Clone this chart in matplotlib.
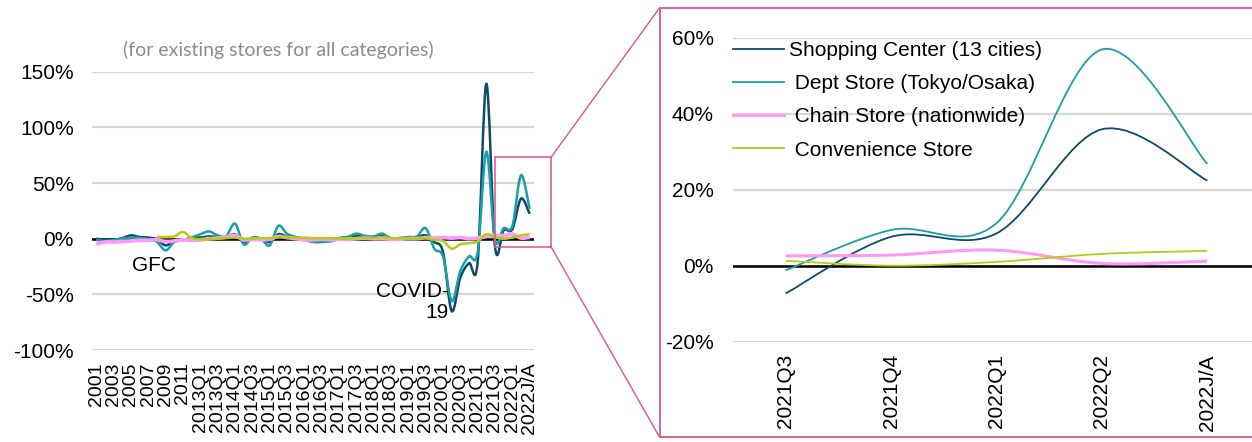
import numpy as np
import matplotlib

matplotlib.use("Agg")
from matplotlib import pyplot as plt
from matplotlib.path import Path
from matplotlib.patches import PathPatch, Rectangle
from matplotlib.lines import Line2D
from matplotlib.ticker import FuncFormatter

plt.rcParams["font.family"] = ["Liberation Sans", "DejaVu Sans"]
plt.rcParams["axes.unicode_minus"] = False

# ===data (% yoy)
categories = [
    "2001", "2002", "2003", "2004", "2005", "2006", "2007", "2008", "2009", "2010", "2011", "2012",
    "2013Q1", "2013Q2", "2013Q3", "2013Q4", "2014Q1", "2014Q2", "2014Q3", "2014Q4",
    "2015Q1", "2015Q2", "2015Q3", "2015Q4", "2016Q1", "2016Q2", "2016Q3", "2016Q4",
    "2017Q1", "2017Q2", "2017Q3", "2017Q4", "2018Q1", "2018Q2", "2018Q3", "2018Q4",
    "2019Q1", "2019Q2", "2019Q3", "2019Q4", "2020Q1", "2020Q2", "2020Q3", "2020Q4",
    "2021Q1", "2021Q2", "2021Q3", "2021Q4", "2022Q1", "2022Q2", "2022J/A",
]
shopping_center = [
    0, -1, -1, 0.5, 3, 1.5, 1, -0.5, -6, -2, -1, 0.5,
    1, 2, 1.5, 1.5, 4, -3, 0, 0, -3, 4, 2, 1,
    0, -1, -1, -0.5, 0.5, 1.5, 2.5, 1.5, 1.5, 3, 0.5, 0.5,
    1, 1.5, 3, -3, -12, -65, -35, -22, -21, 139, -7.3, 7.6,
    8.5, 35.9, 22.4,
]
dept_store = [
    -1, -2, -1, 0, 1, 0.5, -0.5, -3, -10.5, -3, -1.5, 1,
    4, 6.5, 3, 2.5, 13.5, -5, 1, 0, -6, 11.5, 4.5, 1.5,
    -1, -3, -3, -2.5, 0, 1.5, 4.5, 2.5, 2, 4.5, 0, 0.5,
    1.5, 2, 9.5, -9, -16, -56, -29, -16, -12, 78, -1.2, 9.4,
    11.2, 56.9, 26.8,
]
chain_store = [
    -5, -3, -3, -2.5, -2, -1.5, -1.5, -1, -2.5, -2, -1, -1.5,
    -1, 0, 0.5, 1.5, 3, -1, -0.5, -1, -0.5, 2, 1, 0,
    -1, -1, -0.5, -1, -0.5, -0.5, 0, 0.5, 0, 0, -0.5, -0.5,
    0, 0, 1, 0.5, 1, 0.5, 1, 0, 0.5, 2, 2.6, 2.8,
    4.1, 0.6, 1.2,
]
convenience = [
    np.nan, np.nan, np.nan, np.nan, np.nan, np.nan, np.nan, 1.5, 1.5, 2, 6, 0.5,
    -0.5, -0.5, 0, 0.5, 1, 0, 0, 0.5, 0.5, 1.5, 1.5, 1,
    1, 0.5, 0.5, 0.5, 0, 0, 0.5, 0.5, 0.5, 1.5, 0.5, 0.5,
    0, 0, 0.5, -1, -2, -9, -5, -4, -2.5, 4, 1.3, 0,
    1.0, 3.1, 3.9,
]
zoom_start = 46  # 2021Q3 onward

names = [
    "Shopping Center (13 cities)",
    " Dept Store (Tokyo/Osaka)",
    " Chain Store (nationwide)",
    " Convenience Store",
]
colors = ["#0D4A6B", "#17A0A8", "#FF99F5", "#B5CC12"]

W, H = 1252, 442
GRID = "#D9D5D0"
PINK = "#D9558F"


def smooth_path(x, y):
    """excel-like smoothed line as bezier path"""
    pts = [(a, b) for a, b in zip(x, y) if not np.isnan(b)]
    pts = np.array(pts, dtype=float)
    n = len(pts)
    verts = [pts[0]]
    codes = [Path.MOVETO]
    for i in range(n - 1):
        p_prev = pts[i - 1] if i > 0 else pts[i]
        p_next2 = pts[i + 2] if i + 2 < n else pts[i + 1]
        c1 = pts[i] + (pts[i + 1] - p_prev) / 6
        c2 = pts[i + 1] - (p_next2 - pts[i]) / 6
        verts += [c1, c2, pts[i + 1]]
        codes += [Path.CURVE4] * 3
    return Path(verts, codes)


def style_axes(ax, yticks):
    for s in ax.spines.values():
        s.set_visible(False)
    ax.set_yticks(yticks)
    ax.yaxis.set_major_formatter(FuncFormatter(lambda v, p: f"{v:.0f}%"))
    ax.grid(axis="y", color=GRID, lw=1.6)
    ax.set_axisbelow(True)
    ax.axhline(0, color="black", lw=1.8, zorder=1.5)


fig = plt.figure(figsize=(W / 100, H / 100), dpi=100)

# ===left: full history
ax1 = fig.add_axes([92 / W, 1 - 350 / H, (534 - 92) / W, (350 - 71.7) / H])
style_axes(ax1, [-100, -50, 0, 50, 100, 150])
ax1.set_ylim(-100, 150)
ax1.set_xlim(-0.5, len(categories) - 0.5)
xs = np.arange(len(categories))
series = [shopping_center, dept_store, chain_store, convenience]
widths_left = [1.8, 1.8, 2.7, 1.8]
for ys, c, lw in zip(series, colors, widths_left):
    ax1.add_patch(PathPatch(smooth_path(xs, ys), fill=False, ec=c, lw=lw, zorder=2))
ax1.set_xticks(xs[::2])
ax1.set_xticklabels(categories[::2], rotation=90, fontsize=14, va="top")
ax1.tick_params(axis="x", length=0, pad=9)
ax1.tick_params(axis="y", length=0, pad=13, labelsize=15)
ax1.text(6.7, -24.5, "GFC", fontsize=15, ha="center", va="center")
ax1.text(40.7, -57, "COVID-\n19", fontsize=15, ha="right", va="center",
         multialignment="right", linespacing=1.1)

fig.text(278 / W, 1 - 50 / H, "(for existing stores for all categories)",
         ha="center", va="center", color="#8C8C8C", fontsize=14,
         family=["Lato", "DejaVu Sans"])

# ===right: zoom on recent quarters
ax2 = fig.add_axes([733 / W, 1 - 341.7 / H, (1260 - 733) / W, (341.7 - 37.7) / H])
style_axes(ax2, [-20, 0, 20, 40, 60])
ax2.set_ylim(-20, 60)
zcats = categories[zoom_start:]
zx = np.arange(len(zcats))
ax2.set_xlim(-0.5, len(zcats) - 0.5)
widths_right = [1.3, 1.3, 2.2, 1.3]
handles = []
for ys, c, lw in zip(series, colors, widths_right):
    ax2.add_patch(PathPatch(smooth_path(zx, ys[zoom_start:]), fill=False, ec=c, lw=lw, zorder=2))
    handles.append(Line2D([], [], color=c, lw=lw))
ax2.set_xticks(zx)
ax2.set_xticklabels(zcats, rotation=90, fontsize=15, va="top")
ax2.tick_params(axis="x", length=0, pad=9)
ax2.tick_params(axis="y", length=0, pad=14, labelsize=15)
ax2.legend(handles, names, loc="upper left", bbox_to_anchor=(732.5 / W, 1 - 41 / H),
           bbox_transform=fig.transFigure, frameon=False, fontsize=15,
           borderpad=0, borderaxespad=0, handlelength=2.45, handletextpad=0.25,
           labelspacing=0.68)

# ===zoom box and connectors
fig.add_artist(Rectangle((495 / W, 1 - 246.7 / H), (551 - 495) / W, (246.7 - 157.3) / H,
                         transform=fig.transFigure, fill=False, ec=PINK, lw=1.1))
fig.add_artist(Rectangle((659.5 / W, 1 - 437 / H), (1300 - 659.5) / W, (437 - 8) / H,
                         transform=fig.transFigure, fill=False, ec=PINK, lw=1.3))
fig.add_artist(Line2D([551 / W, 659.5 / W], [1 - 157.3 / H, 1 - 8 / H],
                      transform=fig.transFigure, color=PINK, lw=1.0))
fig.add_artist(Line2D([551 / W, 659.5 / W], [1 - 246.7 / H, 1 - 437 / H],
                      transform=fig.transFigure, color=PINK, lw=1.0))

fig.savefig("out.png", dpi=100)
